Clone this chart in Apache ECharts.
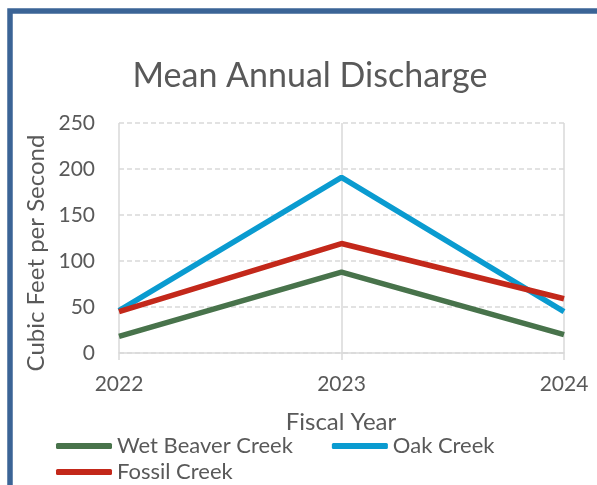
<!DOCTYPE html>
<html><head><meta charset="utf-8">
<script src="https://cdn.jsdelivr.net/npm/echarts@6/dist/echarts.min.js"></script>
<style>html,body{margin:0;padding:0;background:#fff}#c{width:597px;height:485px}</style>
</head><body><div id="c"></div>
<script>
const years = ['2022', '2023', '2024'];
const wetBeaver = [18, 88, 20];
const oakCreek = [46, 191, 45];
const fossilCreek = [45, 119, 59];
const yTicks = [0, 50, 100, 150, 200, 250];

const FONT = 'Lato';
const TXT = '#595959';
const legendBase = {
  itemWidth: 56, itemHeight: 6, icon: 'roundRect', itemGap: 39, padding: 0,
  textStyle: { fontFamily: FONT, fontSize: 22, color: TXT }
};
const chart = echarts.init(document.getElementById('c'));
chart.setOption({
  backgroundColor: '#fff',
  animation: false,
  title: {
    text: 'Mean Annual Discharge', left: 305, top: 54, textAlign: 'center',
    textStyle: { fontFamily: FONT, fontSize: 34, fontWeight: 'normal', color: TXT }
  },
  graphic: [
    { type: 'rect', shape: { x: 10, y: 11, width: 700, height: 600 }, style: { fill: 'none', stroke: '#3B6496', lineWidth: 5.5 }, z: 100 },
    { type: 'text', x: 341, y: 422, style: { text: 'Fiscal Year', fontFamily: FONT, fontSize: 24, fill: TXT, align: 'center', verticalAlign: 'middle' } },
    { type: 'text', x: 36, y: 253, rotation: Math.PI / 2, style: { text: 'Cubic Feet per Second', fontFamily: FONT, fontSize: 24, fill: TXT, align: 'center', verticalAlign: 'middle' } }
  ],
  legend: [
    Object.assign({}, legendBase, { left: 56, top: 435, data: ['Wet Beaver Creek', 'Oak Creek'] }),
    Object.assign({}, legendBase, { left: 56, top: 461, data: ['Fossil Creek'] })
  ],
  grid: { left: 119, right: 33, top: 123, bottom: 132, containLabel: false },
  xAxis: {
    type: 'category', data: years, boundaryGap: false,
    axisLine: { lineStyle: { color: '#d9d9d9', width: 1.5 } },
    axisTick: { show: true, length: 7, lineStyle: { color: '#d9d9d9', width: 1.5 } },
    axisLabel: { margin: 21, fontFamily: FONT, fontSize: 21, color: TXT },
    splitLine: { show: true, lineStyle: { color: '#d9d9d9', width: 1.5 } }
  },
  yAxis: {
    type: 'value', min: 0, max: 250, interval: 50,
    axisLine: { show: false }, axisTick: { show: false },
    axisLabel: { margin: 24, fontFamily: FONT, fontSize: 21, color: TXT,
      formatter: v => yTicks.includes(v) ? String(v) : '' },
    splitLine: { show: true, lineStyle: { color: '#d9d9d9', width: 1.5, type: [5, 3] } }
  },
  series: [
    { name: 'Wet Beaver Creek', type: 'line', data: wetBeaver, symbol: 'none', lineStyle: { width: 5.5, color: '#48734B' }, itemStyle: { color: '#48734B' } },
    { name: 'Oak Creek', type: 'line', data: oakCreek, symbol: 'none', lineStyle: { width: 5.5, color: '#0A9BD0' }, itemStyle: { color: '#0A9BD0' } },
    { name: 'Fossil Creek', type: 'line', data: fossilCreek, symbol: 'none', lineStyle: { width: 5.5, color: '#C3281A' }, itemStyle: { color: '#C3281A' } }
  ]
});
</script></body></html>
